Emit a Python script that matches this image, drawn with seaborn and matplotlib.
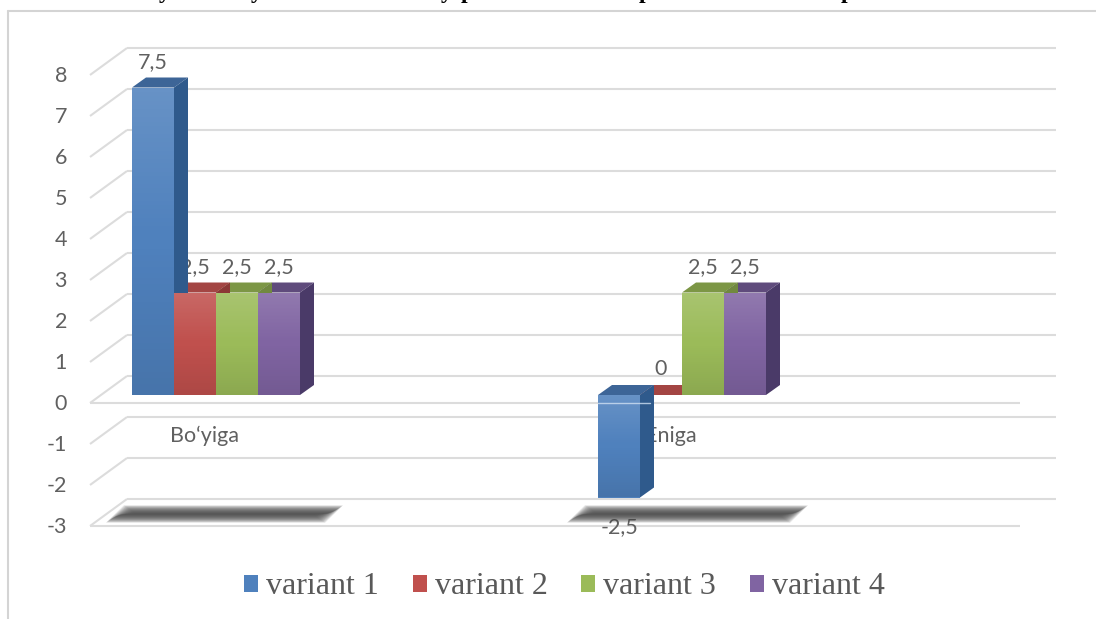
import numpy as np
import pandas as pd
import seaborn as sns
import matplotlib
matplotlib.use("Agg")
import matplotlib.pyplot as plt
from matplotlib.lines import Line2D
from matplotlib.patches import Polygon, Patch

# Chart values
categories = ["Bo‘yiga", "Eniga"]
variants = ["variant 1", "variant 2", "variant 3", "variant 4"]
variant_1 = [7.5, -2.5]
variant_2 = [2.5, 0.0]
variant_3 = [2.5, 2.5]
variant_4 = [2.5, 2.5]
axis_ticks = [8, 7, 6, 5, 4, 3, 2, 1, 0, -1, -2, -3]

# Colours per variant: front face, side face, top face
front_colors = ["#4f81bd", "#c0504d", "#9bbb59", "#8064a2"]
side_colors = ["#2f5a8c", "#8c3836", "#71893f", "#4a3a68"]
top_colors = ["#3d6597", "#a34543", "#7c9645", "#5f4b7c"]

W, H = 1096, 619
sns.set_theme(style="white")
plt.rcParams["font.family"] = ["Lato", "DejaVu Sans"]

# Pixel layout of the pseudo-3D box
CLUSTER_0, CLUSTER_1 = 216.0, 682.0
ZERO_Y, UNIT = 395.0, 41.0
SPACING = CLUSTER_1 - CLUSTER_0


def x_data(px):
    return (px - CLUSTER_0) / SPACING


def y_data(py):
    return (ZERO_Y - py) / UNIT


DEPTH_X = 14 / SPACING
DEPTH_Y = 10 / UNIT
GRID = "#dcdcdc"
TEXT = "#606060"
LABEL_SIZE = 15.5

frame = pd.DataFrame({
    "category": categories * 4,
    "variant": np.repeat(variants, 2),
    "value": variant_1 + variant_2 + variant_3 + variant_4,
})

fig = plt.figure(figsize=(W / 100, H / 100), dpi=100, facecolor="white")
ax = fig.add_axes([0, 0, 1, 1])
sns.barplot(
    data=frame, x="category", y="value", hue="variant", hue_order=variants,
    order=categories, palette=front_colors, width=4 * 42 / SPACING, gap=0,
    saturation=1, errorbar=None, legend=False, ax=ax, zorder=3,
    linewidth=0, edgecolor="none",
)
ax.set_xlim(x_data(0), x_data(W))
ax.set_ylim(y_data(H), y_data(0))
ax.axis("off")

# Walls and floor gridlines
grid_kw = dict(color=GRID, lw=1.5, zorder=1, solid_capstyle="butt")
wall_shift = y_data(376) - y_data(395)
front_shift = y_data(403) - y_data(395)
for v in axis_ticks:
    ax.plot([x_data(127), x_data(1056)], [v + wall_shift] * 2, **grid_kw)
    ax.plot([x_data(90), x_data(127)], [v + front_shift, v + wall_shift], **grid_kw)
    ax.text(x_data(67), v + y_data(404) - y_data(395), str(v), ha="right",
            va="center", fontsize=LABEL_SIZE, color=TEXT, zorder=1.5)
for v in (0, -3):
    ax.plot([x_data(90), x_data(1020)], [v + front_shift] * 2, **grid_kw)

# Soft shadows cast on the floor
for left, right in ((112, 337), (573, 802)):
    for grow in np.linspace(6, -5, 12):
        top_y = y_data(509.5 - grow * 0.7)
        low_y = y_data(518.5 + grow * 0.7)
        skew = 18
        corners = [
            (x_data(left - grow), low_y),
            (x_data(left + skew - grow), top_y),
            (x_data(right + grow), top_y),
            (x_data(right - skew + grow), low_y),
        ]
        ax.add_patch(Polygon(corners, closed=True, fc="#3f3f3f", ec="none",
                             alpha=0.15, zorder=1.8))

# Side and top faces, drawn right to left so that nearer bars overlap
series = [variant_1, variant_2, variant_3, variant_4]
for idx in range(len(variants) - 1, -1, -1):
    for bar, value in zip(ax.containers[idx], series[idx]):
        x0, x1 = bar.get_x(), bar.get_x() + bar.get_width()
        upper = max(value, 0)
        lower = min(value, 0)
        ax.add_patch(Polygon(
            [(x0, upper), (x0 + DEPTH_X, upper + DEPTH_Y),
             (x1 + DEPTH_X, upper + DEPTH_Y), (x1, upper)],
            closed=True, fc=top_colors[idx], ec="none", zorder=2.2))
        ax.add_patch(Polygon(
            [(x1, lower), (x1 + DEPTH_X, lower + DEPTH_Y),
             (x1 + DEPTH_X, upper + DEPTH_Y), (x1, upper)],
            closed=True, fc=side_colors[idx], ec="none", zorder=2.2))

# Shading across the front faces
shade = np.zeros((64, 2, 4))
shade[:32, :, :3] = 1.0
shade[:32, :, 3] = np.linspace(0.14, 0.0, 32)[:, None]
shade[32:, :, 3] = np.linspace(0.0, 0.10, 32)[:, None]
for container in ax.containers:
    for bar in container:
        if bar.get_height() == 0:
            continue
        x0 = bar.get_x()
        y_low, y_high = sorted((bar.get_y(), bar.get_y() + bar.get_height()))
        img = ax.imshow(shade, extent=(x0, x0 + bar.get_width(), y_low, y_high),
                        aspect="auto", origin="upper", zorder=3.1, interpolation="bilinear")
        img.set_clip_path(bar)
ax.set_xlim(x_data(0), x_data(W))
ax.set_ylim(y_data(H), y_data(0))

# Value labels sit behind the bars
for idx, container in enumerate(ax.containers):
    for bar, value in zip(container, series[idx]):
        if value == 0:
            offset = 26
        elif value > 0:
            offset = 25
        else:
            offset = -29.5
        ax.text(bar.get_x() + bar.get_width() / 2, value + offset / UNIT,
                f"{value:g}".replace(".", ","), ha="center", va="center",
                fontsize=LABEL_SIZE, color=TEXT, zorder=1.5)

# Category names under the floor line
for pos, name in enumerate(categories):
    ax.text(pos + x_data(205) - x_data(216), y_data(436), name, ha="center", va="center",
            fontsize=LABEL_SIZE, color=TEXT, zorder=1.5)

# Floor line crossing the negative bar
neg_bar = ax.containers[0][1]
ax.plot([neg_bar.get_x(), neg_bar.get_x() + neg_bar.get_width() + DEPTH_X * 0.7],
        [front_shift] * 2, color="#cfe0f2", lw=1.0, alpha=0.8, zorder=3.3)

# Legend
handles = [Patch(facecolor=c, edgecolor="none", label=v) for c, v in zip(front_colors, variants)]
ax.legend(handles=handles, loc="center", bbox_to_anchor=(564.5 / W, 1 - 587 / H),
          bbox_transform=fig.transFigure, ncol=4, frameon=False, handlelength=0.44,
          handleheight=0.44, handletextpad=0.25, columnspacing=1.06,
          prop={"family": "Liberation Serif", "size": 23}, labelcolor="#595959")

# Chart frame
for xs, ys in (((8, W), (11, 11)), ((8, 8), (11, H))):
    fig.add_artist(Line2D([x / W for x in xs], [1 - y / H for y in ys],
                          transform=fig.transFigure, color="#d4d4d4", lw=1.5))

# Heading line above the frame, cropped by the top edge
for px, letter in ((165, "y"), (257, "y"), (447, "y"), (467, "p"), (645, "p"), (847, "p")):
    fig.text(px / W, 1 + 2.0 / H, letter, ha="center", va="baseline",
             family="Liberation Serif", weight="bold", fontsize=17, color="black")

fig.savefig("out.png", dpi=100)
